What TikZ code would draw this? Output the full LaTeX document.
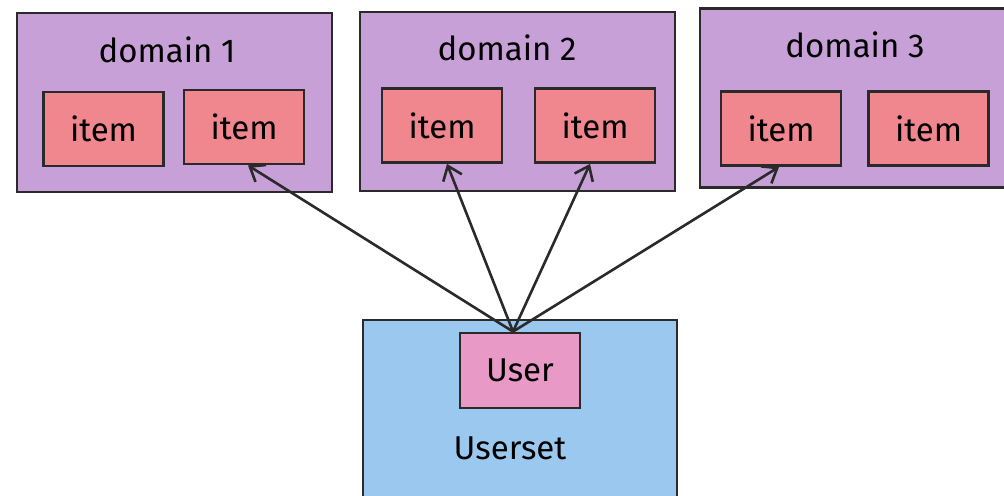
\documentclass[tikz,border=0pt]{standalone}
\usepackage{fontspec}
\setmainfont{Fira Sans}
\usetikzlibrary{arrows.meta}
\definecolor{domfill}{HTML}{C8A0D8}
\definecolor{itemfill}{HTML}{F0868E}
\definecolor{userfill}{HTML}{E899C6}
\definecolor{setfill}{HTML}{9BC8EE}
\definecolor{ink}{HTML}{2A2A2A}
\tikzset{
  box/.style={draw=ink, line width=1.4pt, rectangle, inner sep=0pt},
  dombox/.style={box, fill=domfill, minimum width=157.5pt, minimum height=89.5pt},
  itembox/.style={box, fill=itemfill, minimum width=60pt, minimum height=37pt,
    font=\fontsize{16.5}{18}\selectfont},
  userbox/.style={box, fill=userfill, minimum width=60pt, minimum height=37.5pt,
    font=\fontsize{16.5}{18}\selectfont},
  setbox/.style={box, fill=setfill, minimum width=157pt, minimum height=90pt},
  lbl/.style={font=\fontsize{16.5}{18}\selectfont, inner sep=0pt, text=black},
  link/.style={draw=ink, line width=1.3pt, line cap=round,
    -{Straight Barb[length=6.5pt,width=10pt,line width=1.3pt]}}
}
\begin{document}
\begin{tikzpicture}[x=0.5pt, y=-0.5pt]
\useasboundingbox (0,0) rectangle (1004,496);
\clip (0,0) rectangle (1004,496);
\fill[white] (0,0) rectangle (1004,496);

% domain 1
\node[dombox] (d1) at (174.5,102.5) {};
\node[lbl] (d1t) at (167,50) {domain 1};
\node[itembox] (d1a) at (103.5,129) {item};
\node[itembox] (d1b) at (244,127) {item};

% domain 2
\node[dombox] (d2) at (517.5,101.5) {};
\node[lbl] (d2t) at (507,48) {domain 2};
\node[itembox] (d2a) at (442,125.5) {item};
\node[itembox] (d2b) at (595,125.5) {item};

% domain 3 (runs past the right edge)
\node[dombox] (d3) at (857.5,98) {};
\node[lbl] (d3t) at (855,45) {domain 3};
\node[itembox] (d3a) at (781,128.5) {item};
\node[itembox] (d3b) at (928.5,128.5) {item};

% userset (runs past the bottom edge)
\node[setbox] (us) at (520,410) {};
\node[userbox] (u) at (520,370.5) {User};
\node[lbl] (ust) at (510,448) {Userset};

\coordinate (src) at ([xshift=-3.5pt]u.north);
\draw[link] (src) -- ([xshift=2pt]d1b.south);
\draw[link] (src) -- ([xshift=2.5pt]d2a.south);
\draw[link] (src) -- ([xshift=-2.5pt]d2b.south);
\draw[link] (src) -- ([xshift=-1pt]d3a.south);
\end{tikzpicture}
\end{document}
